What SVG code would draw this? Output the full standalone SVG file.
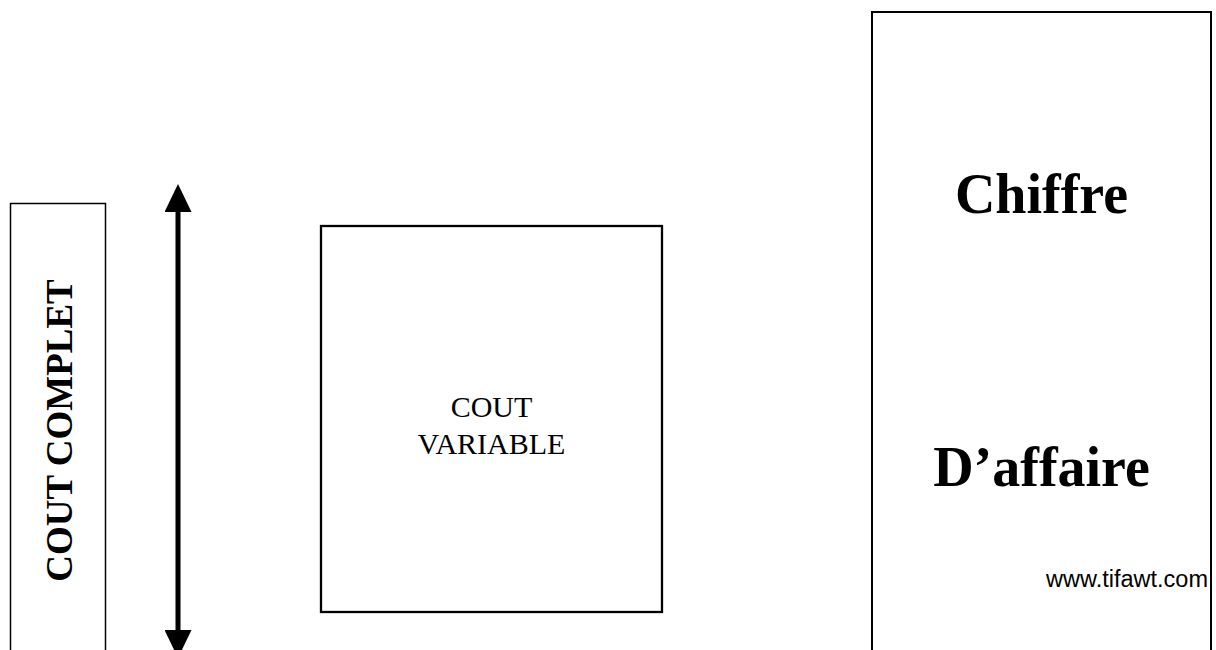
<svg xmlns="http://www.w3.org/2000/svg" width="1216" height="650" viewBox="0 0 1216 650">
<style>
.box{fill:#fff;stroke:#000}
.serif{font-family:"Liberation Serif","Times New Roman",serif;fill:#000}
.bold{font-weight:bold}
.sans{font-family:"Liberation Sans",Arial,sans-serif;fill:#000}
</style>
<defs>
<marker id="ah" viewBox="0 0 28 27" refX="0" refY="13.5" markerWidth="28" markerHeight="27" markerUnits="userSpaceOnUse" orient="auto-start-reverse">
<path d="M0,0 L28,13.5 L0,27 Z" fill="#000"/>
</marker>
</defs>
<rect width="1216" height="650" fill="#fff"/>
<g id="cout-complet">
<rect class="box" x="10.5" y="203.5" width="95" height="460" stroke-width="1.5"/>
<text class="serif bold" font-size="37" text-anchor="middle" transform="translate(72,430.5) rotate(-90)">COUT COMPLET</text>
</g>
<g id="cout-variable">
<rect class="box" x="321" y="226" width="341" height="386" stroke-width="2.3"/>
<text class="serif" font-size="30" text-anchor="middle"><tspan x="491.5" y="417">COUT</tspan><tspan x="491.5" y="454">VARIABLE</tspan></text>
</g>
<g id="chiffre-affaire">
<rect class="box" x="872" y="12" width="339" height="660" stroke-width="2"/>
<text class="serif bold" font-size="56" text-anchor="middle" x="1041.5" y="213">Chiffre</text>
<text class="serif bold" font-size="56" text-anchor="middle" x="1041.5" y="486">D’affaire</text>
</g>
<g id="connectors">
<line x1="178" y1="212" x2="178" y2="630" stroke="#000" stroke-width="5" marker-start="url(#ah)" marker-end="url(#ah)"/>
</g>
<text class="sans" font-size="23.5" text-anchor="end" x="1208" y="587">www.tifawt.com</text>
</svg>
